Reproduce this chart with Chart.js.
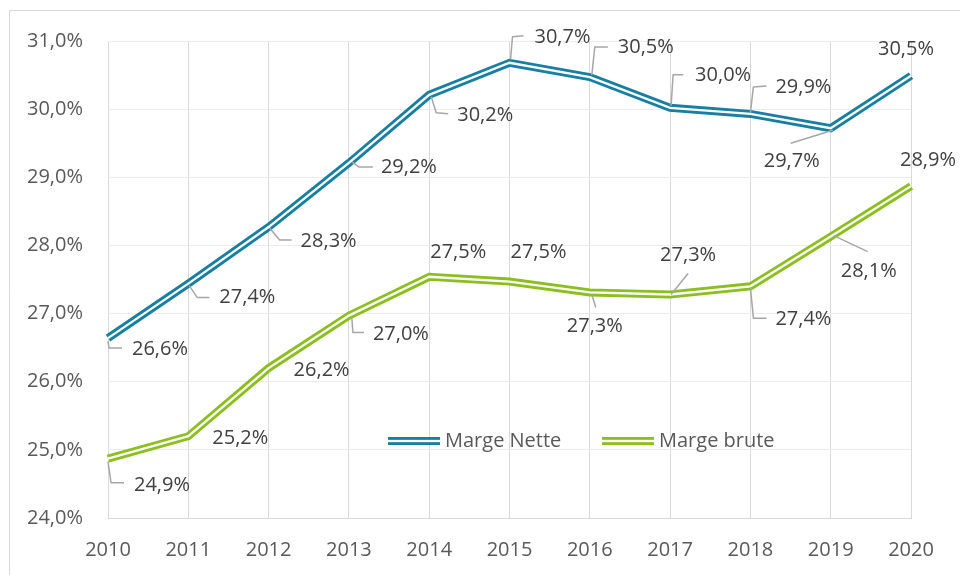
<!DOCTYPE html>
<html>
<head>
<meta charset="utf-8">
<script src="https://cdn.jsdelivr.net/npm/chart.js@4"></script>
<style>
  html, body { margin: 0; padding: 0; background: #ffffff; }
  canvas { display: block; }
</style>
</head>
<body>
<canvas id="c" width="960" height="575"></canvas>
<script>
// ---- Data ----
const years = ['2010','2011','2012','2013','2014','2015','2016','2017','2018','2019','2020'];
const margeNette = [26.64, 27.44, 28.27, 29.21, 30.21, 30.68, 30.47, 30.02, 29.93, 29.72, 30.49];
const margeBrute = [24.87, 25.20, 26.20, 26.97, 27.54, 27.47, 27.31, 27.28, 27.40, 28.13, 28.87];
const seriesNames = ['Marge Nette', 'Marge brute'];
const yTickMin = 24, yTickMax = 31, yTickStep = 1;

// ---- Label placement (pixel offsets from point, kept separate from data) ----
const netteLabelPos = [[52,11],[59,14],[60,14],[60,4],[56,20],[53,-26],[56,-30],[53,-32],[53,-27],[-39,33],[-5,-26]];
const netteLeaders = [
  [[0,3],[1,10],[14,10]], [[1,2],[9,14],[21,14]], [[1,1],[11,13],[23,13]], [[3,-1],[10,4],[24,4]],
  [[2,2],[7,18],[19,19]], [[1,-3],[3,-26],[14,-27]], [[2,-2],[5,-30],[18,-30]], [[1,-2],[3,-33],[13,-33]],
  [[0,-1],[3,-27],[16,-28]], [[2,2],[-40,15]], null
];
const bruteLabelPos = [[54,27],[52,2],[53,2],[52,19],[29,-24],[29,-29],[5,34],[18,-39],[53,33],[38,35],[17,-26]];
const bruteLeaders = [
  [[0,3],[3,24],[16,24]], null, null, [[3,3],[4,17],[15,17]], null, null,
  [[2,2],[6,15]], [[1,0],[18,-21]], [[0,1],[3,32],[16,32]], [[3,-1],[37,15]], null
];

const COLORS = ['#167FA2', '#8BBF1E'];
const FONT = "'Open Sans', sans-serif";
const fmt = v => v.toFixed(1).replace('.', ',') + '%';

Chart.defaults.font.family = FONT;

const decoPlugin = {
  id: 'deco',
  beforeDraw(chart) {
    const ctx = chart.ctx;
    ctx.save();
    ctx.strokeStyle = '#d9d9d9';
    ctx.lineWidth = 1;
    ctx.beginPath();
    ctx.moveTo(9.5, 575);
    ctx.lineTo(9.5, 10.5);
    ctx.lineTo(960, 10.5);
    ctx.stroke();
    ctx.restore();
  },
  afterDatasetsDraw(chart) {
    const ctx = chart.ctx;
    ctx.save();
    // inner white line -> double line look
    chart.data.datasets.forEach((ds, i) => {
      const pts = chart.getDatasetMeta(i).data;
      ctx.beginPath();
      pts.forEach((p, k) => k ? ctx.lineTo(p.x, p.y) : ctx.moveTo(p.x, p.y));
      ctx.strokeStyle = '#ffffff';
      ctx.lineWidth = 2.3;
      ctx.lineJoin = 'miter';
      ctx.stroke();
    });
    // data labels with leader lines
    const sets = [[netteLabelPos, netteLeaders], [bruteLabelPos, bruteLeaders]];
    ctx.font = '20px ' + FONT;
    ctx.textAlign = 'center';
    ctx.textBaseline = 'middle';
    chart.data.datasets.forEach((ds, i) => {
      const pts = chart.getDatasetMeta(i).data;
      const [pos, leads] = sets[i];
      pts.forEach((p, k) => {
        const L = leads[k];
        if (L) {
          ctx.beginPath();
          L.forEach((o, j) => j ? ctx.lineTo(p.x + o[0], p.y + o[1]) : ctx.moveTo(p.x + o[0], p.y + o[1]));
          ctx.strokeStyle = '#a6a6a6';
          ctx.lineWidth = 1.5;
          ctx.lineJoin = 'round';
          ctx.stroke();
        }
        ctx.fillStyle = '#404040';
        ctx.fillText(fmt(ds.data[k]), p.x + pos[k][0], p.y + pos[k][1]);
      });
    });
    // legend inside plot area
    const a = chart.chartArea;
    const ly = a.top + 400;
    const items = [a.left + 280, a.left + 494];
    ctx.textAlign = 'left';
    items.forEach((x, i) => {
      ctx.fillStyle = COLORS[i];
      ctx.fillRect(x, ly - 4, 52, 8);
      ctx.fillStyle = '#ffffff';
      ctx.fillRect(x, ly - 1.15, 52, 2.3);
      ctx.fillStyle = '#595959';
      ctx.fillText(chart.data.datasets[i].label, x + 57, ly);
    });
    ctx.restore();
  }
};

new Chart(document.getElementById('c'), {
  type: 'line',
  data: {
    labels: years,
    datasets: [
      { label: seriesNames[0], data: margeNette, borderColor: COLORS[0], backgroundColor: COLORS[0],
        borderWidth: 8, pointRadius: 0, tension: 0, borderJoinStyle: 'miter', fill: false },
      { label: seriesNames[1], data: margeBrute, borderColor: COLORS[1], backgroundColor: COLORS[1],
        borderWidth: 8, pointRadius: 0, tension: 0, borderJoinStyle: 'miter', fill: false }
    ]
  },
  options: {
    responsive: false,
    animation: false,
    layout: { padding: { left: 10, top: 41, right: 49, bottom: 0 } },
    plugins: { legend: { display: false }, tooltip: { enabled: false } },
    scales: {
      x: {
        offset: false,
        grid: { color: '#d9d9d9', lineWidth: 1, drawTicks: false },
        border: { color: '#d9d9d9' },
        ticks: { color: '#595959', font: { size: 20 }, padding: 20, maxRotation: 0 },
        afterFit(s) { s.height = 57; }
      },
      y: {
        min: yTickMin, max: yTickMax,
        grid: { color: '#ececec', lineWidth: 1, drawTicks: false },
        border: { display: false },
        ticks: { stepSize: yTickStep, color: '#595959', font: { size: 20 }, padding: 25,
                 callback: v => fmt(v) },
        afterFit(s) { s.width = 98; }
      }
    }
  },
  plugins: [decoPlugin]
});
</script>
</body>
</html>
